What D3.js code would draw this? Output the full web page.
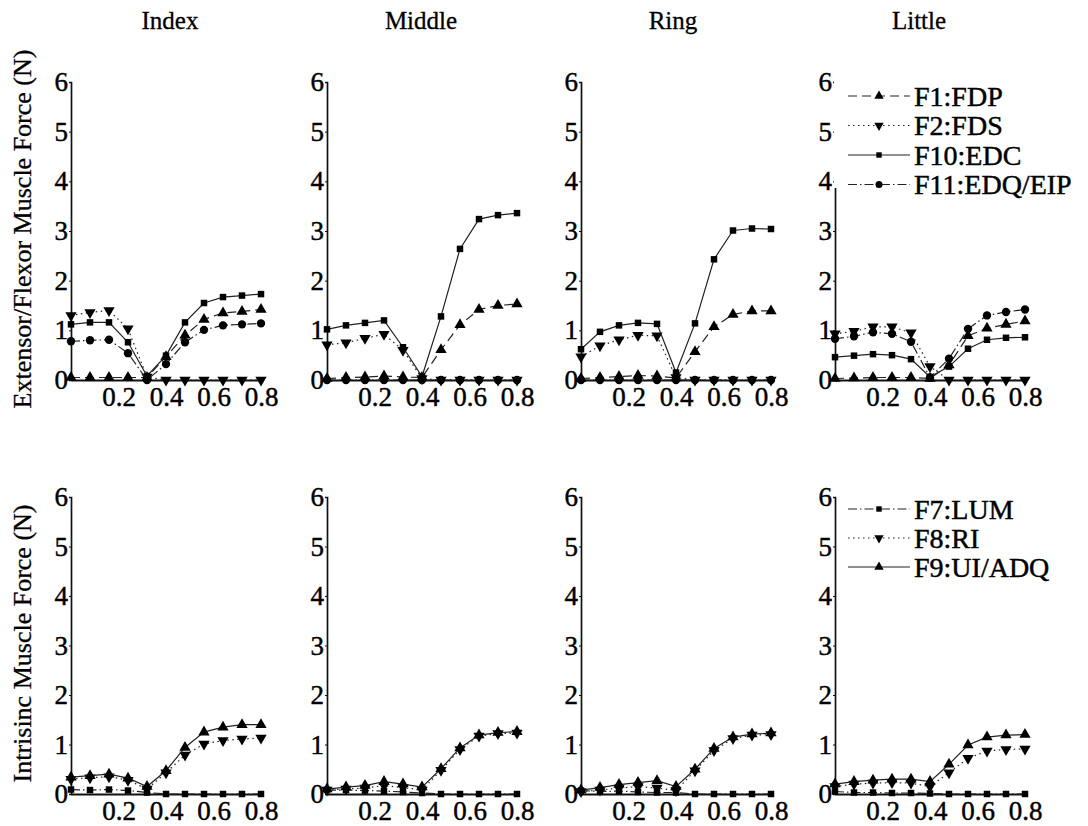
<!DOCTYPE html>
<html>
<head>
<meta charset="utf-8">
<script src="https://cdn.jsdelivr.net/npm/d3@7"></script>
<style>
  html, body { margin: 0; padding: 0; background: #fff; }
  svg { display: block; }
</style>
</head>
<body>
<svg id="chart" width="1088" height="826"></svg>
<script>
// Normalised position along the motion (x) and finger columns
const positions = [0, 0.08, 0.16, 0.24, 0.32, 0.40, 0.48, 0.56, 0.64, 0.72, 0.80];
const fingers = ["Index", "Middle", "Ring", "Little"];
const yTicks = [0, 1, 2, 3, 4, 5, 6];
const xTicks = [0.2, 0.4, 0.6, 0.8];

// Extrinsic muscle forces (N), one row per finger: Index, Middle, Ring, Little
const F1_FDP = [
  [0.05, 0.05, 0.05, 0.05, 0.05, 0.47, 0.90, 1.22, 1.35, 1.38, 1.42],
  [0.03, 0.05, 0.06, 0.08, 0.06, 0.05, 0.61, 1.11, 1.42, 1.50, 1.53],
  [0.03, 0.05, 0.07, 0.09, 0.08, 0.04, 0.57, 1.07, 1.32, 1.39, 1.39],
  [0.03, 0.04, 0.05, 0.05, 0.05, 0.03, 0.30, 0.89, 1.04, 1.12, 1.19]
];
const F2_FDS = [
  [1.30, 1.36, 1.40, 1.03, 0.06, 0, 0, 0, 0, 0, 0],
  [0.71, 0.75, 0.84, 0.92, 0.60, 0.03, 0, 0, 0, 0, 0],
  [0.47, 0.69, 0.81, 0.90, 0.89, 0.05, 0, 0, 0, 0, 0],
  [0.93, 0.98, 1.07, 1.07, 0.95, 0.27, 0, 0, 0, 0, 0]
];
const F10_EDC = [
  [1.12, 1.16, 1.16, 0.76, 0.08, 0.49, 1.16, 1.55, 1.67, 1.70, 1.73],
  [1.02, 1.10, 1.15, 1.20, 0.66, 0.07, 1.28, 2.64, 3.24, 3.32, 3.36],
  [0.62, 0.97, 1.10, 1.15, 1.13, 0.15, 1.14, 2.43, 3.01, 3.05, 3.04],
  [0.46, 0.49, 0.52, 0.50, 0.42, 0.06, 0.27, 0.63, 0.81, 0.85, 0.86]
];
const F11_EDQ_EIP = [
  [0.78, 0.80, 0.81, 0.54, 0.00, 0.32, 0.76, 1.01, 1.10, 1.12, 1.14],
  [0, 0, 0, 0, 0, 0, 0, 0, 0, 0, 0],
  [0, 0, 0, 0, 0, 0, 0, 0, 0, 0, 0],
  [0.83, 0.88, 0.96, 0.93, 0.77, 0.05, 0.43, 1.03, 1.30, 1.37, 1.42]
];

// Intrinsic muscle forces (N)
const F7_LUM = [
  [0.09, 0.08, 0.09, 0.07, 0.03, 0, 0, 0, 0, 0, 0],
  [0.08, 0.08, 0.07, 0.06, 0.04, 0.02, 0, 0, 0, 0, 0],
  [0.07, 0.05, 0.06, 0.04, 0.03, 0.03, 0, 0, 0, 0, 0],
  [0.05, 0.03, 0.03, 0.02, 0.02, 0.01, 0, 0, 0, 0, 0]
];
const F8_RI = [
  [0.30, 0.33, 0.35, 0.28, 0.10, 0.43, 0.79, 1.01, 1.08, 1.11, 1.13],
  [0.08, 0.10, 0.12, 0.17, 0.13, 0.08, 0.48, 0.90, 1.17, 1.22, 1.23],
  [0.05, 0.08, 0.12, 0.15, 0.12, 0.07, 0.47, 0.88, 1.12, 1.19, 1.20],
  [0.15, 0.20, 0.22, 0.23, 0.22, 0.15, 0.43, 0.72, 0.87, 0.90, 0.91]
];
const F9_UI_ADQ = [
  [0.34, 0.37, 0.40, 0.32, 0.15, 0.47, 0.94, 1.25, 1.35, 1.40, 1.40],
  [0.10, 0.14, 0.17, 0.25, 0.20, 0.14, 0.51, 0.93, 1.19, 1.24, 1.26],
  [0.08, 0.13, 0.19, 0.23, 0.27, 0.15, 0.50, 0.92, 1.15, 1.21, 1.23],
  [0.20, 0.25, 0.28, 0.30, 0.30, 0.25, 0.60, 0.99, 1.15, 1.19, 1.20]
];

// Series definitions for each row (line style + marker)
const topSeries = [
  { name: "F1:FDP",      data: F1_FDP,      dash: "9,5",       marker: "up" },
  { name: "F2:FDS",      data: F2_FDS,      dash: "1.5,3.5",   marker: "down" },
  { name: "F10:EDC",     data: F10_EDC,     dash: null,        marker: "square" },
  { name: "F11:EDQ/EIP", data: F11_EDQ_EIP, dash: "9,3,1.5,3", marker: "circle" }
];
const bottomSeries = [
  { name: "F7:LUM",    data: F7_LUM,    dash: "9,3,1.5,3", marker: "square" },
  { name: "F8:RI",     data: F8_RI,     dash: "1.5,3.5",   marker: "down" },
  { name: "F9:UI/ADQ", data: F9_UI_ADQ, dash: null,        marker: "up" }
];

const SERIF = "'Liberation Serif', 'Times New Roman', 'DejaVu Serif', serif";
const svg = d3.select("#chart");
const axisLefts = [71, 327, 581, 835];
const titleCenters = [170, 421, 673, 919];
const panelW = 190;
const rows = [
  { series: topSeries,    y0: 380, y6: 82,  label: "Extensor/Flexor Muscle Force (N)", legendY: [96, 125.5, 155, 184.5], legendBox: true },
  { series: bottomSeries, y0: 794, y6: 497, label: "Intrisinc Muscle Force (N)",       legendY: [509, 538, 567],          legendBox: false }
];

// slightly heavier glyphs, like a printed figure
function ink(sel) {
  return sel.style("font-family", SERIF).attr("fill", "#000")
    .attr("stroke", "#000").attr("stroke-width", 0.45);
}

function symbolPath(kind, big) {
  const s = big ? 1 : 0.7;
  if (kind === "up" || kind === "down") return d3.symbol(d3.symbolTriangle, 55 * s)();
  if (kind === "square") return d3.symbol(d3.symbolSquare, 42 * s)();
  return d3.symbol(d3.symbolCircle, 55 * s)();
}
function markerTransform(kind, x, y) {
  return kind === "down" ? `translate(${x},${y}) rotate(180)` : `translate(${x},${y})`;
}

// Column titles
fingers.forEach((f, i) => {
  svg.append("text")
    .attr("x", titleCenters[i])
    .attr("y", 29)
    .attr("text-anchor", "middle")
    .style("font-size", "25px")
    .call(ink)
    .attr("stroke-width", 0.3)
    .text(f);
});

rows.forEach((row, r) => {
  const y = d3.scaleLinear().domain([0, 6]).range([row.y0, row.y6]);

  // Row axis title
  svg.append("text")
    .attr("transform", `translate(31,${(row.y0 + row.y6) / 2 - 2}) rotate(-90)`)
    .attr("text-anchor", "middle")
    .style("font-size", "26px")
    .call(ink)
    .attr("stroke-width", 0.3)
    .text(row.label);

  fingers.forEach((f, c) => {
    const x = d3.scaleLinear().domain([0, 0.8]).range([axisLefts[c], axisLefts[c] + panelW]);
    const g = svg.append("g");

    // y axis
    const yAxis = g.append("g")
      .attr("transform", `translate(${axisLefts[c]},0)`)
      .call(d3.axisLeft(y).tickValues(yTicks).tickFormat(d3.format("d")).tickSize(2).tickPadding(1));
    yAxis.attr("font-family", null).attr("font-size", null);
    yAxis.select(".domain").attr("stroke", "#111").attr("stroke-width", 1.7);
    yAxis.selectAll(".tick line").attr("stroke", "#111");
    yAxis.selectAll("text").style("font-size", "27px").call(ink);

    // x axis
    const xAxis = g.append("g")
      .attr("transform", `translate(0,${row.y0})`)
      .call(d3.axisBottom(x).tickValues(xTicks).tickFormat(d3.format(".1f")).tickSize(0).tickPadding(10));
    xAxis.attr("font-family", null).attr("font-size", null);
    xAxis.select(".domain").attr("stroke", "#111").attr("stroke-width", 1.9);
    xAxis.selectAll("text").style("font-size", "27px").call(ink).attr("dy", "0.6em");

    // series lines and markers
    row.series.forEach(s => {
      const vals = s.data[c];
      const pts = positions.map((p, i) => [p, vals[i]]);
      const line = d3.line().x(d => x(d[0])).y(d => y(d[1]));
      g.append("path")
        .attr("d", line(pts))
        .attr("fill", "none")
        .attr("stroke", "#222")
        .attr("stroke-width", 1.2)
        .attr("stroke-dasharray", s.dash);
      g.selectAll(null)
        .data(pts)
        .enter().append("path")
        .attr("d", symbolPath(s.marker, true))
        .attr("transform", d => markerTransform(s.marker, x(d[0]), y(d[1])))
        .attr("fill", "#000");
    });

    // legend in the rightmost panel
    if (c === 3) {
      const lg = svg.append("g");
      if (row.legendBox) {
        lg.append("rect")
          .attr("x", axisLefts[c] - 1).attr("y", 78)
          .attr("width", 1088 - axisLefts[c] + 1).attr("height", 110)
          .attr("fill", "#fff");
      }
      row.series.forEach((s, k) => {
        const ly = row.legendY[k];
        lg.append("line")
          .attr("x1", 848).attr("x2", 910).attr("y1", ly).attr("y2", ly)
          .attr("stroke", "#222").attr("stroke-width", 1.2)
          .attr("stroke-dasharray", s.dash);
        lg.append("path")
          .attr("d", symbolPath(s.marker, false))
          .attr("transform", markerTransform(s.marker, 879, ly))
          .attr("fill", "#000");
        lg.append("text")
          .attr("x", 914).attr("y", ly).attr("dy", "0.34em")
          .style("font-size", "28px")
          .call(ink)
          .text(s.name);
      });
    }
  });
});
</script>
</body>
</html>
